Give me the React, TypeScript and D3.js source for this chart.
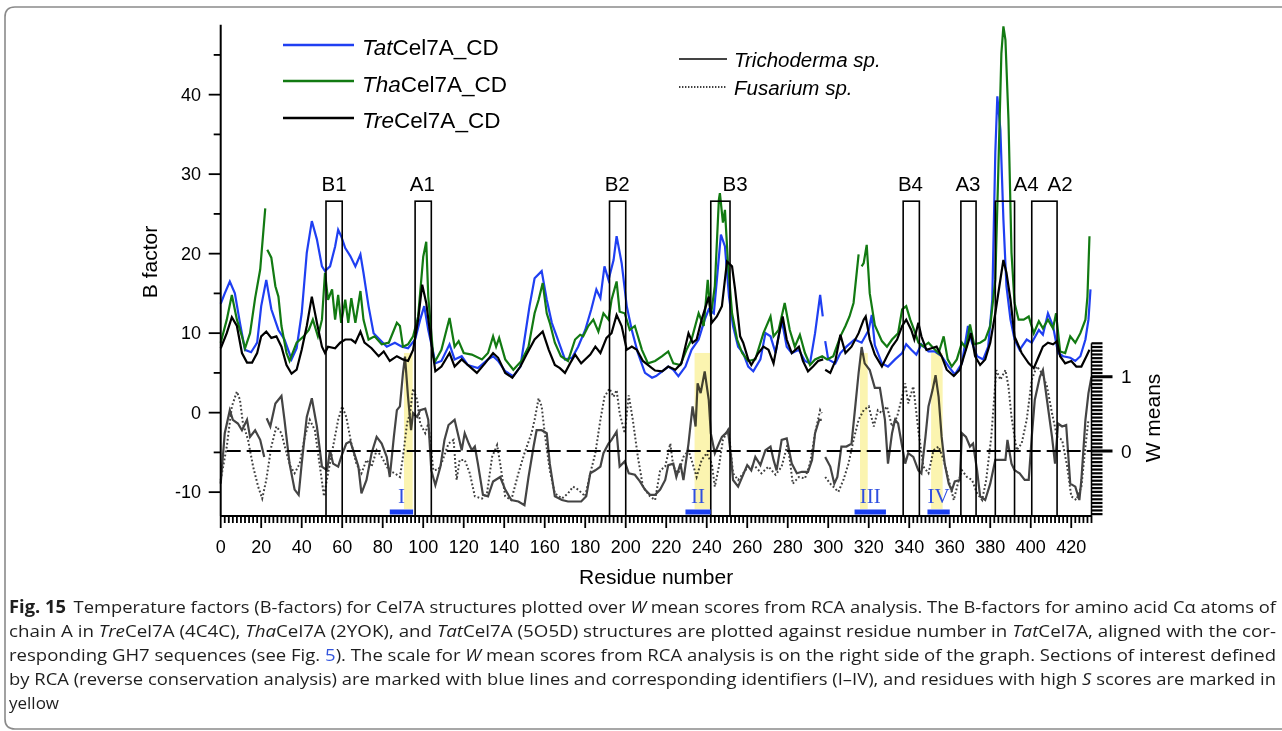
import React from "react";
import * as d3 from "d3";

type Pt = [number, number | null];

// B factors, [residue, B]
const tatCel7A: Pt[] = [
  [0, 13.7], [2, 15], [4.5, 16.5], [7, 15], [9.5, 11.3], [12, 7.9], [15, 7.6], [18, 8.8], [20, 13.4], [22.5, 16.7],
  [25, 13], [28.5, 10.4], [31.5, 9.2], [35, 6.7], [37.5, 8.1], [40, 12.5], [42.5, 20.1], [45, 24.1], [47.5, 21.8],
  [50, 18.4], [51.5, 17.8], [54, 18.4], [56.5, 20.9], [58, 23], [59.5, 22.2], [61.5, 20.7], [64, 19.7], [66.5, 18.4],
  [69, 19.9], [70.5, 17.6], [73, 13.4], [75.5, 10], [78.5, 9.2], [82, 8.3], [86, 8.8], [89.5, 8.3], [92.5, 8.1],
  [96, 9.2], [98.5, 11.7], [100.5, 13.4], [102.5, 10.4], [105, 7.5], [106, 6.2], [109, 6.5], [113, 8.6], [115.5, 6.7],
  [119, 7.1], [122, 6], [127, 5.6], [132, 6.7], [134.5, 7.1], [137, 6.5], [140.5, 5.2], [144.5, 4.6], [148, 5.8],
  [150, 9.2], [152.5, 13.4], [155, 16.9], [158.5, 17.8], [161, 14.2], [163.5, 11.3], [166.5, 9.2], [170, 6.7],
  [173.5, 6.9], [176.5, 8.3], [180, 10.4], [183, 13], [185.5, 15.5], [187.5, 14.4], [189.5, 18.4], [191.5, 16.7],
  [194, 19.2], [195.5, 22.2], [198, 18.8], [200.5, 13.4], [203, 10.4], [206, 7.5], [209.5, 5], [213, 4.4], [215, 4.6],
  [218, 5.2], [221, 5.8], [223.5, 5.4], [226, 4.6], [229.5, 5.8], [232.5, 7.9], [236, 9.2], [239, 11.7], [241, 13],
  [243.5, 12.5], [245, 16.7], [247, 22.4], [249, 20.9], [251, 14.6], [253, 10.9], [255.5, 8.3], [258, 7.5], [260.5, 5.8],
  [263, 5.2], [266.5, 6.7], [269, 10], [271.5, 9.6], [274, 7.5], [277, 11.7], [279.5, 8.3], [282, 7.5], [285.5, 7.9],
  [288.5, 6.5], [291, 6.2], [293.5, 10], [296, 14.8], [297.3, 12.1], [297.8, null], [298.5, 9], [300, 6.7], [303.5, 6.2],
  [306, 7.5], [309, 8.3], [313, 9.2], [316.5, 8.8], [320, 10.4], [321.5, 12.3], [323, 8.5], [326.5, 6.2], [329.5, 5.8],
  [333, 6.7], [336.5, 7.5], [338.5, 8.6], [341, 7.9], [343.5, 7.3], [346, 8.6], [349.5, 7.7], [352.5, 7.7], [356, 7.1],
  [359.5, 5.8], [362.5, 4.8], [366, 6.2], [369, 10.9], [371, 8.8], [373.5, 7.1], [376.5, 6.7], [379, 8.3], [381, 14.2],
  [382.5, 32.7], [383.5, 39.8], [385, 35.6], [386.5, 24.3], [388, 15.9], [390, 11.7], [392, 9.2], [394.5, 7.9],
  [398, 9.2], [400.5, 8.8], [404, 10.4], [406, 9.8], [408.5, 12.5], [411, 10.9], [413.5, 7.5], [416, 7.1], [419.5, 6.9],
  [422, 6.5], [424.5, 7.1], [427, 9.2], [428.5, 11.7], [429.5, 15.5],
];

const thaCel7A: Pt[] = [
  [0, 8.8], [3, 11.7], [5.5, 14.8], [8, 11.7], [10.5, 9.6], [12, 8.1], [14.5, 10], [17, 14.4], [19.5, 18], [22, 25.7],
  [22.5, null], [23, 20.5], [25, 19.5], [27, 15.9], [28.5, 14.6], [30, 10.9], [32.5, 7.5], [34, 6.5], [37.5, 8.8],
  [41, 9.6], [43.5, 10.4], [45.5, 11.7], [48, 9.6], [50, 11.7], [51.5, 17.6], [53, 14.2], [55, 15.5], [56.5, 11.7],
  [58, 14.8], [59.5, 11.3], [61.5, 14.2], [63, 11.3], [64.5, 14.4], [66.5, 11.3], [69, 15.3], [70.5, 11.7], [73, 9.2],
  [76, 9.6], [79.5, 8.6], [83, 8.8], [87, 11.3], [88.5, 10.9], [90, 8.3], [92.5, 8.6], [95, 9.6], [97.5, 12.1],
  [100, 19.6], [101.5, 21.5], [102.5, 14.6], [105, 7], [106, 6.5], [109, 7.9], [113, 11.9], [115.5, 8.3], [117.5, 9],
  [120, 7.5], [124, 7.3], [129, 6.7], [132, 7.5], [134.5, 9.6], [136, 8.3], [137.5, 9.4], [140.5, 6.7], [144.5, 5.4],
  [148.5, 6.5], [152, 8.3], [155, 12.5], [157, 14.2], [159, 16.3], [161, 12.5], [162.5, 11.3], [165, 8.8], [168, 7.1],
  [171.5, 6.5], [175, 9.2], [177.5, 9.8], [179, 9.6], [181.5, 10.9], [184, 11.7], [186.5, 10.2], [189, 12.5],
  [191.5, 11.7], [193, 14.2], [195.5, 16.5], [197, 12.7], [199.5, 12.5], [202, 10.4], [204.5, 10.9], [208, 7.9],
  [211, 6.2], [214.5, 6.5], [218, 7.1], [221, 7.7], [223.5, 6.2], [227, 6], [230, 7.9], [232.5, 9.2], [236, 12.5],
  [238.5, 10.9], [240.5, 16.7], [242, 12.1], [244, 15.9], [246, 26.8], [246.5, 27.6], [248, 23.9], [249, 25.5],
  [250.5, 18.8], [252.5, 12.5], [255, 9.2], [257.5, 7.5], [260.5, 6.5], [264, 6.7], [268, 10], [271.5, 12.1], [273, 9.6],
  [275.5, 10.4], [278.5, 13.8], [281, 10.4], [283.5, 8.3], [286, 9.8], [288.5, 7.5], [291, 6], [293.5, 6.7], [297, 7.1],
  [299.5, 6.7], [302.5, 7.1], [306, 9.6], [308.5, 10.9], [310.5, 12.1], [312.5, 13.8], [315, 19.9], [315.8, null],
  [316.5, 18.4], [317.5, 18.8], [319, 21.1], [320.5, 15], [323, 11], [326.5, 9], [329, 8.3], [331.5, 9.2], [334.5, 10],
  [336.5, 13], [338.5, 13.4], [340.5, 11.7], [343, 10], [344.5, 8.8], [347, 8.3], [349.5, 8.8], [352, 8.1], [354.5, 7.5],
  [357, 9.6], [359, 6.7], [361, 5.8], [363.5, 6.7], [366, 8.8], [368, 8.1], [370, 11.1], [372, 8.6], [375, 8.8],
  [377.5, 9.2], [380, 10.9], [382.5, 16.7], [384, 30.6], [385.5, 45.2], [386.5, 48.6], [387.5, 46.9], [389, 36.9],
  [390.5, 20.1], [392, 13.8], [394, 11.7], [396.5, 11.7], [399, 12.1], [401.5, 10], [404, 11.5], [406, 10.6],
  [408.5, 11.7], [411, 10.6], [412.5, 12.5], [414.5, 7.7], [417, 7.5], [419.5, 9.6], [422, 8.8], [424.5, 10],
  [427, 11.7], [428, 14.6], [429, 22.2],
];

const treCel7A: Pt[] = [
  [0, 8.1], [3, 10], [5.5, 12], [8, 10.9], [10.5, 7.5], [13, 6.3], [15.5, 6.3], [18, 7.5], [20, 9.6], [22.5, 10.2],
  [25, 9.4], [27.5, 9.6], [30, 8.3], [32.5, 6], [35, 4.9], [37.5, 5.4], [40, 7.9], [42.5, 10.9], [45, 14.6], [47.5, 11.3],
  [50, 8.3], [51.5, 7.5], [53, 8.3], [56.5, 8.1], [59, 8.8], [61.5, 9.2], [64.5, 9.2], [66.5, 8.8], [69, 10.2], [71, 8.8],
  [74.5, 8.1], [78, 7.1], [80.5, 7.7], [83.5, 6.5], [87, 7.1], [90, 6.7], [92.5, 6.5], [95, 7.9], [97.5, 11.7],
  [99.5, 16.1], [101.5, 13.8], [104, 8.8], [106, 5.2], [109, 5.8], [113, 7.5], [115.5, 5.8], [119, 6.7], [122, 6],
  [126.5, 5], [130.5, 6.2], [134.5, 7.5], [137, 6.9], [140.5, 5], [144, 4.4], [148, 5.8], [151, 7.3], [155, 9.2],
  [159, 10.2], [162, 7.9], [165, 6], [167.5, 5.6], [170, 5], [172.5, 6.2], [175, 7.3], [178, 6.2], [182.5, 7.3],
  [185, 8.3], [187.5, 7.5], [190.5, 9.4], [193, 10], [195.5, 12.3], [198, 10.9], [200.5, 7.9], [203, 8.3], [205.5, 7.9],
  [208.5, 6.5], [212, 5.8], [214.5, 5.3], [218, 5.2], [221, 5.8], [224.5, 5.4], [227.5, 6.2], [231, 10], [233, 8.8],
  [235, 9.2], [237.5, 11.7], [241, 14.6], [242.5, 11.3], [245, 12.1], [247.5, 13.4], [250, 19], [252.5, 18.4],
  [254, 15.5], [256.5, 9.6], [258, 8.8], [260.5, 6.7], [262, 6], [265.5, 7.5], [268, 8.3], [270.5, 7.9], [273, 6.2],
  [275.5, 9.6], [277.5, 12.1], [279.5, 9.2], [282, 7.5], [285.5, 8.3], [287.5, 6.5], [290, 5.2], [292.5, 5.8],
  [295, 6.5], [297.5, 6.7], [297.9, null], [298.5, 5.4], [301, 5], [303.5, 6.5], [306, 9.8], [308.5, 7.5], [311.5, 8.3],
  [315, 10], [317.5, 11.7], [318.5, 12.1], [320.5, 9.2], [323, 7.3], [326.5, 5.8], [329, 7.1], [331.5, 8.3], [334, 9.2],
  [336.5, 10.9], [338.5, 11.7], [341, 10.4], [342.5, 9.2], [344.5, 11.3], [346, 9.6], [348.5, 7.9], [351, 8.1],
  [353.5, 8.3], [356, 7.1], [358.5, 5.4], [362, 4.6], [365, 5.4], [367.5, 7.5], [370.5, 10], [372.5, 7.1], [375, 6],
  [377.5, 6.7], [380, 8.8], [382.5, 12.5], [384.5, 15.9], [386.5, 19.2], [388, 17.6], [390, 14.2], [392, 9.6],
  [395.5, 7.5], [399, 6.2], [401.5, 5.6], [404, 7.1], [406, 8.3], [408.5, 8.8], [411, 8.6], [413, 9], [414.5, 7.1],
  [417, 6.2], [420, 6.5], [422.5, 5.8], [425, 5.8], [427.5, 7.1], [429, 7.9],
];

// W mean scores, [residue, W]
const trichoderma: Pt[] = [
  [0, -0.44], [2, 0.24], [4.5, 0.55], [6, 0.42], [8.5, 0.37], [10.5, 0.28], [13, 0.42], [14.5, 0.19], [17, 0.28],
  [19.5, 0.15], [21.5, -0.08], [22, null], [22.7, 0.44], [24.5, 0.33], [27, 0.64], [30, 0.74], [31.5, 0.42], [34, -0.17],
  [36.5, -0.52], [38.5, -0.59], [40, -0.17], [42.5, 0.46], [45, 0.71], [47.5, 0.33], [50, -0.21], [52.5, -0.26],
  [54, 0.01], [55.5, -0.17], [58, -0.21], [59.5, -0.08], [62, 0.1], [64, 0.13], [66.5, -0.08], [68, -0.21],
  [69.5, -0.57], [72, -0.39], [74.5, -0.03], [77, 0.19], [79.5, 0.1], [82, -0.08], [83.5, -0.35], [85.5, 0.19],
  [87, 0.55], [88.5, 0.6], [90, 1.05], [91, 1.27], [92.5, 0.73], [94, 0.28], [95, 0.51], [97, 0.46], [98.5, 0.55],
  [101, 0.57], [102.5, 0.42], [104, -0.26], [106, -0.46], [108.5, -0.21], [110.5, 0.15], [112.5, 0.35], [115.5, 0.42],
  [117.5, 0.19], [119, 0.01], [120.5, 0.24], [122.5, 0.1], [124, 0.01], [125.5, 0.06], [127, -0.17], [129.5, -0.59],
  [132, -0.61], [134.5, -0.41], [138, -0.35], [140.5, -0.52], [143.5, -0.66], [147, -0.68], [150, -0.73], [152, -0.35],
  [154.5, 0.06], [156, 0.28], [158.5, 0.28], [161, 0.24], [162.5, -0.17], [165, -0.61], [168.5, -0.66], [171.5, -0.68],
  [175, -0.68], [178, -0.68], [180.5, -0.61], [182.5, -0.3], [185, -0.26], [187.5, -0.21], [189, -0.03], [191.5, 0.1],
  [193, 0.15], [195.5, 0.26], [197, -0.21], [199.5, -0.14], [201.5, -0.3], [204.5, -0.32], [207, -0.41], [209.5, -0.52],
  [212, -0.59], [214.5, -0.59], [217, -0.52], [219.5, -0.39], [221, -0.19], [223.5, -0.17], [225, -0.35], [227, -0.17],
  [228.5, -0.39], [231, 0.1], [233, 0.6], [234.5, 0.33], [235.5, 0.91], [237, 0.78], [239, 1.07], [241, 0.69],
  [242, 0.24], [244, -0.03], [246, 0.1], [247.5, 0.19], [249.5, 0.24], [250.5, 0.28], [252, -0.08], [253, -0.39],
  [255.5, -0.48], [257.5, -0.35], [260, -0.19], [262, -0.26], [264, -0.08], [266.5, -0.19], [269, 0.01], [271.5, 0.06],
  [273, -0.12], [274.5, -0.26], [277, 0.15], [279.5, 0.17], [282, -0.17], [284.5, -0.3], [287, -0.28], [290, -0.28],
  [292, -0.12], [293.5, 0.24], [295.5, 0.42], [296.8, 0.42], [297.5, null], [298.5, -0.08], [301, -0.21], [303, -0.44],
  [304.5, -0.35], [306.5, 0.06], [309, 0.06], [311.5, 0.1], [313.5, 0.64], [315, 1.05], [316.5, 1.4], [318, 1.18],
  [320.5, 1.09], [323, 0.85], [325.5, 0.85], [328, 0.42], [329.5, -0.17], [331.5, 0.24], [333, 0.42], [334.5, 0.37],
  [336.5, 0.06], [338, -0.17], [339.5, -0.03], [342, -0.08], [344.5, -0.26], [346, -0.3], [348, 0.19], [349.5, 0.6],
  [351.5, 0.82], [353, 1.02], [354.5, 0.73], [356, 0.19], [357.5, -0.17], [359.5, -0.44], [361, -0.53], [362.5, -0.41],
  [365, -0.39], [366, 0.24], [368, 0.19], [370, 0.06], [371.5, 0.1], [373.5, -0.26], [375, -0.61], [377.5, -0.66],
  [380, -0.44], [382.5, -0.12], [385, -0.12], [387.5, -0.12], [388.5, 0.15], [390.5, -0.17], [392, -0.26],
  [394.5, -0.3], [397, -0.39], [399, -0.39], [400.5, 0.19], [402, 0.69], [404.5, 1], [406, 1.09], [408, 0.69],
  [410.5, 0.19], [412, -0.17], [413.5, 0.37], [415.5, 0.33], [417.5, 0.35], [419.5, -0.44], [422, -0.48], [424, -0.66],
  [425, -0.39], [427, 0.42], [428.5, 0.78], [430, 1.0],
];

const fusarium: Pt[] = [
  [0, -0.39], [3, 0.06], [5.5, 0.6], [8, 0.8], [9.5, 0.69], [11, 0.37], [13.5, 0.15], [16, -0.21], [18.5, -0.48],
  [20.5, -0.64], [22.5, -0.39], [25, 0.06], [27.5, 0.33], [30, 0.24], [32.5, -0.03], [34.5, -0.21], [36.5, -0.3],
  [39, -0.17], [41.5, 0.19], [44, 0.42], [46.5, 0.28], [49, -0.21], [51, -0.61], [53, -0.3], [55.5, 0.06], [58, 0.42],
  [60, 0.6], [62, 0.46], [64.5, 0.1], [67, -0.17], [69.5, -0.3], [72, -0.12], [74.5, -0.21], [77, 0.01], [79.5, -0.08],
  [83, -0.26], [86, -0.3], [88.5, -0.35], [90, -0.08], [92, 0.37], [93.5, 0.51], [95, 0.84], [97, 0.69], [98.5, 0.37],
  [101, 0.24], [102.5, 0.37], [105, -0.26], [107.5, -0.25], [109, -0.17], [112.5, 0.1], [115, 0.15], [116.5, -0.39],
  [118, -0.12], [120.5, -0.12], [123, -0.3], [125.5, -0.61], [129, -0.64], [131.5, -0.57], [134, -0.08], [136.5, 0.08],
  [138, -0.17], [140.5, -0.61], [143.5, -0.66], [147, -0.3], [150, -0.03], [153.5, 0.24], [155, 0.42], [157, 0.71],
  [158.5, 0.6], [160, 0.24], [162.5, -0.26], [165, -0.57], [168.5, -0.64], [171.5, -0.57], [174, -0.48], [176.5, -0.52],
  [180, -0.61], [182.5, -0.3], [185, -0.03], [187.5, 0.42], [189.5, 0.73], [192, 0.84], [194, 0.73], [195.5, 0.82],
  [197, 0.51], [199.5, 0.24], [201.5, 0.75], [203.5, 0.42], [206, -0.08], [208.5, -0.48], [212, -0.61], [214.5, -0.66],
  [217, -0.26], [219.5, -0.21], [222, 0.1], [223.5, -0.21], [226, -0.3], [228.5, -0.08], [231, 0.01], [233.5, -0.21],
  [235, -0.35], [237.5, -0.12], [240, -0.03], [242.5, -0.17], [244, -0.48], [246, -0.21], [248, 0.15], [250.5, 0.28],
  [251.5, 0.1], [253, -0.3], [255.5, -0.39], [258, -0.3], [260.5, -0.21], [264, -0.21], [267, -0.3], [270.5, -0.21],
  [274, -0.32], [277, -0.21], [280, 0.1], [282.5, -0.44], [285.5, -0.35], [288.5, -0.37], [291, -0.17], [293.5, 0.24],
  [296, 0.55], [296.8, 0.51], [297.5, null], [298.5, -0.35], [301, -0.44], [305, -0.55], [307.5, -0.39], [310, -0.17],
  [312.5, 0.15], [315, 0.42], [317.5, 0.55], [320, 0.6], [322.5, 0.33], [324.5, 0.55], [326.5, 0.51], [329, 0.6],
  [331.5, 0.33], [334, 0.46], [336.5, 0.73], [338, 0.91], [339.5, 0.64], [342, 0.87], [344.5, 0.28], [347, -0.21],
  [349.5, -0.3], [352, 0.01], [354.5, 0.06], [357, -0.12], [359.5, -0.39], [362, -0.66], [364, -0.44], [366, -0.26],
  [368.5, -0.35], [371, -0.39], [373.5, -0.57], [376, -0.66], [378, -0.39], [380.5, 0.19], [383, 1.09], [385, 0.96],
  [387.5, 1.09], [389, 0.87], [390.5, 0.46], [393, 0.01], [395.5, 0.1], [398, 0.42], [400.5, 0.96], [403, 1.14],
  [405.5, 1.05], [408, 0.87], [410.5, 0.51], [413, 0.19], [415.5, 0.15], [418, -0.21], [420, -0.61], [422.5, -0.66],
  [425, -0.48], [427, 0.06], [428.5, 0.42],
];

// boxed regions (residue ranges) and where their labels sit
const regionNames = ["B1", "A1", "B2", "B3", "B4", "A3", "A4", "A2"];
const regionStart = [52, 96, 192, 242, 337, 365.5, 382.5, 400.5];
const regionEnd = [60, 104, 200, 251.5, 345, 373, 392, 413];
const regionLabelAt = [56, 99.6, 195.8, 254, 340.6, 369, 397.7, 414.5];

// RCA sections (blue bars) and high S score residues (yellow)
const sectionNames = ["I", "II", "III", "IV"];
const sectionStart = [83.5, 229.5, 313, 349];
const sectionEnd = [95, 242, 328.5, 360];
const highSStart = [90.5, 234, 315.7, 350.8];
const highSEnd = [94.8, 241.6, 319.5, 356.5];

const xTickLabels = d3.range(0, 421, 20);
const bTickLabels = [-10, 0, 10, 20, 30, 40];
const wTickLabels = [0, 1];

const AX = "Liberation Sans, Arial, sans-serif";

export default function App() {
  const x = d3.scaleLinear().domain([0, 430]).range([220.7, 1091.5]);
  const yB = d3.scaleLinear().domain([-13, 48.8]).range([516, 24.7]);
  const yW = d3.scaleLinear().domain([-0.875, 1.45]).range([516, 343.3]);

  const lineB = d3
    .line<Pt>()
    .defined((d) => d[1] !== null)
    .x((d) => x(d[0]))
    .y((d) => yB(d[1] as number));
  const lineW = d3
    .line<Pt>()
    .defined((d) => d[1] !== null)
    .x((d) => x(d[0]))
    .y((d) => yW(d[1] as number));

  const x0 = x.range()[0];
  const x1 = x.range()[1];
  const yBase = yB.range()[0];
  const boxTop = yB(26.6);
  const barTop = yBase - 7;

  const minorX = d3.range(0, 431, 2);
  const minorB = d3.range(-10, 46, 5);
  const wTicks = d3.range(-17, 30).map((i) => i * 0.05);

  return (
    <svg width={1282} height={731} style={{ position: "absolute", left: 0, top: 0, background: "#fff" }}>
      {/* frame */}
      <path d="M1290,7 H15 Q5,7 5,17 V719 Q5,729 15,729 H1290" fill="none" stroke="#8a8a8a" strokeWidth={1.6} />

      {/* W mean lines */}
      <path d={lineW(fusarium) || ""} fill="none" stroke="#3f3f3f" strokeWidth={2} strokeDasharray="1.8,2.2" />
      <path d={lineW(trichoderma) || ""} fill="none" stroke="#444" strokeWidth={2.2} />

      {/* B factor lines */}
      <path d={lineB(tatCel7A) || ""} fill="none" stroke="#1f3ff2" strokeWidth={2.2} />
      <path d={lineB(thaCel7A) || ""} fill="none" stroke="#127a12" strokeWidth={2.2} />
      <path d={lineB(treCel7A) || ""} fill="none" stroke="#000" strokeWidth={2.2} />

      {/* yellow: residues with high S */}
      {highSStart.map((s, i) => (
        <rect
          key={"y" + i}
          x={x(s)}
          y={yW(1.32)}
          width={x(highSEnd[i]) - x(s)}
          height={barTop - yW(1.32)}
          fill="#fbf4b0"
          style={{ mixBlendMode: "multiply" }}
        />
      ))}

      {/* zero line of W */}
      <line x1={x0} x2={x1} y1={yW(0)} y2={yW(0)} stroke="#000" strokeWidth={2} strokeDasharray="14,6" strokeDashoffset={-6} />

      {/* region boxes */}
      {regionNames.map((n, i) => (
        <g key={n}>
          <rect
            x={x(regionStart[i])}
            y={boxTop}
            width={x(regionEnd[i]) - x(regionStart[i])}
            height={yBase - boxTop}
            fill="none"
            stroke="#000"
            strokeWidth={1.6}
          />
          <text x={x(regionLabelAt[i])} y={boxTop - 10} textAnchor="middle" fontFamily={AX} fontSize={20.5}>
            {n}
          </text>
        </g>
      ))}

      {/* RCA sections */}
      {sectionNames.map((n, i) => (
        <g key={n}>
          <rect x={x(sectionStart[i])} y={barTop + 0.5} width={x(sectionEnd[i]) - x(sectionStart[i])} height={5} fill="#1a3ff0" />
          <text
            x={(x(sectionStart[i]) + x(sectionEnd[i])) / 2}
            y={barTop - 6}
            textAnchor="middle"
            fontFamily="Liberation Serif, 'Times New Roman', serif"
            fontSize={21}
            fill="#2f4fe0"
          >
            {n}
          </text>
        </g>
      ))}

      {/* bottom axis */}
      <line x1={x0} x2={x1} y1={yBase} y2={yBase} stroke="#000" strokeWidth={2} />
      {minorX.map((v) => (
        <line key={"mx" + v} x1={x(v)} x2={x(v)} y1={yBase} y2={yBase + (v % 20 === 0 ? 12 : 7)} stroke="#000" strokeWidth={1.8} />
      ))}
      {xTickLabels.map((v) => (
        <text key={"xl" + v} x={x(v)} y={553} textAnchor="middle" fontFamily={AX} fontSize={18}>
          {v}
        </text>
      ))}
      <text x={(x0 + x1) / 2} y={584} textAnchor="middle" fontFamily={AX} fontSize={21}>
        Residue number
      </text>

      {/* left axis */}
      <line x1={x0} x2={x0} y1={yB.range()[1]} y2={yBase} stroke="#000" strokeWidth={2} />
      {minorB.map((v) => (
        <line key={"mb" + v} x1={x0 - (v % 10 === 0 ? 12 : 7)} x2={x0} y1={yB(v)} y2={yB(v)} stroke="#000" strokeWidth={1.8} />
      ))}
      {bTickLabels.map((v) => (
        <text key={"bl" + v} x={201} y={yB(v)} dy="0.35em" textAnchor="end" fontFamily={AX} fontSize={18}>
          {v}
        </text>
      ))}
      <text transform={`translate(157,262) rotate(-90)`} textAnchor="middle" fontFamily={AX} fontSize={21}>
        B factor
      </text>

      {/* right W axis */}
      <line x1={x1} x2={x1} y1={yW.range()[1]} y2={yW.range()[0]} stroke="#000" strokeWidth={1.5} />
      {wTicks.map((v, i) => {
        const major = wTickLabels.some((t) => Math.abs(t - v) < 1e-6);
        return (
          <line
            key={"wt" + i}
            x1={x1}
            x2={x1 + (major ? 21 : 11)}
            y1={yW(v)}
            y2={yW(v)}
            stroke="#000"
            strokeWidth={major ? 3 : 2.2}
          />
        );
      })}
      {wTickLabels.map((v) => (
        <text key={"wl" + v} x={1121} y={yW(v)} dy="0.35em" fontFamily={AX} fontSize={19}>
          {v}
        </text>
      ))}
      <text transform={`translate(1160,418) rotate(-90)`} textAnchor="middle" fontFamily={AX} fontSize={21}>
        W means
      </text>

      {/* legend: structures */}
      <g fontFamily={AX} fontSize={22.5}>
        <line x1={283} x2={354} y1={45} y2={45} stroke="#1f3ff2" strokeWidth={2.5} />
        <text x={362} y={55}>
          <tspan fontStyle="italic">Tat</tspan>Cel7A_CD
        </text>
        <line x1={283} x2={354} y1={81} y2={81} stroke="#127a12" strokeWidth={2.5} />
        <text x={362} y={91.5}>
          <tspan fontStyle="italic">Tha</tspan>Cel7A_CD
        </text>
        <line x1={283} x2={354} y1={118} y2={118} stroke="#000" strokeWidth={2.5} />
        <text x={362} y={128}>
          <tspan fontStyle="italic">Tre</tspan>Cel7A_CD
        </text>
      </g>

      {/* legend: W means */}
      <g fontFamily={AX} fontSize={20.5} fontStyle="italic">
        <line x1={679} x2={727} y1={59} y2={59} stroke="#444" strokeWidth={2.2} />
        <text x={734} y={66.5}>Trichoderma sp.</text>
        <line x1={679} x2={727} y1={87} y2={87} stroke="#3f3f3f" strokeWidth={1.8} strokeDasharray="1.4,1.6" />
        <text x={734} y={94.5}>Fusarium sp.</text>
      </g>

      {/* caption */}
      <g fontFamily="'Open Sans', 'Noto Sans', sans-serif" fontSize={17} fill="#1e1e1e">
        <text x={9} y={613} textLength={1267} lengthAdjust="spacingAndGlyphs">
          <tspan fontWeight={700}>Fig. 15</tspan>
          <tspan dx={7}>{"Temperature factors (B-factors) for Cel7A structures plotted over "}</tspan>
          <tspan fontStyle="italic">W</tspan>
          <tspan>{" mean scores from RCA analysis. The B-factors for amino acid Cα atoms of"}</tspan>
        </text>
        <text x={9} y={637} textLength={1267} lengthAdjust="spacingAndGlyphs">
          <tspan>{"chain A in "}</tspan>
          <tspan fontStyle="italic">Tre</tspan>
          <tspan>{"Cel7A (4C4C), "}</tspan>
          <tspan fontStyle="italic">Tha</tspan>
          <tspan>{"Cel7A (2YOK), and "}</tspan>
          <tspan fontStyle="italic">Tat</tspan>
          <tspan>{"Cel7A (5O5D) structures are plotted against residue number in "}</tspan>
          <tspan fontStyle="italic">Tat</tspan>
          <tspan>{"Cel7A, aligned with the cor-"}</tspan>
        </text>
        <text x={9} y={661} textLength={1267} lengthAdjust="spacingAndGlyphs">
          <tspan>{"responding GH7 sequences (see Fig. "}</tspan>
          <tspan fill="#3355dd">5</tspan>
          <tspan>{"). The scale for "}</tspan>
          <tspan fontStyle="italic">W</tspan>
          <tspan>{" mean scores from RCA analysis is on the right side of the graph. Sections of interest defined"}</tspan>
        </text>
        <text x={9} y={685} textLength={1267} lengthAdjust="spacingAndGlyphs">
          <tspan>{"by RCA (reverse conservation analysis) are marked with blue lines and corresponding identifiers (I–IV), and residues with high "}</tspan>
          <tspan fontStyle="italic">S</tspan>
          <tspan>{" scores are marked in"}</tspan>
        </text>
        <text x={9} y={709}>yellow</text>
      </g>
    </svg>
  );
}
